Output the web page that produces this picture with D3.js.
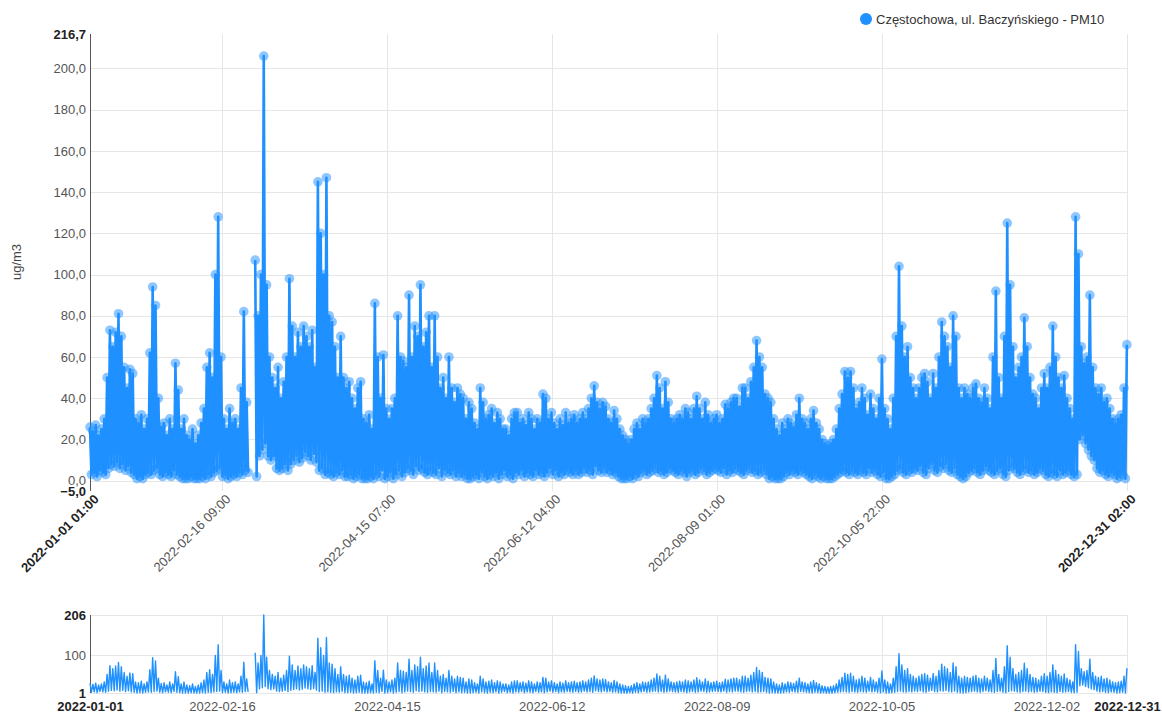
<!DOCTYPE html>
<html><head><meta charset="utf-8">
<script src="https://cdn.jsdelivr.net/npm/d3@7"></script>
<style>
body{margin:0;background:#fff;}
svg{font-family:"Liberation Sans",Arial,sans-serif;display:block;}
</style></head><body>
<svg id="c" width="1162" height="713"></svg>
<script>
const seriesName = "Częstochowa, ul. Baczyńskiego - PM10";
const yTitle = "ug/m3";
// daily readings (first reading of each day ~01:00 = daily high, second ~13:00 = daily low)
const dayHigh = [
26,24,27,22,25,30,50,73,65,72,
81,70,55,45,54,52,30,28,32,25,
30,62,94,85,40,26,28,22,30,25,
57,44,25,30,22,20,25,18,22,28,
35,55,62,50,100,128,60,30,25,35,
28,30,25,45,82,38,null,null,107,80,
100,206,95,60,50,45,55,40,48,60,
98,75,60,72,65,75,70,65,73,55,
145,120,100,147,80,77,65,50,70,50,
45,48,40,35,45,48,30,28,32,25,
86,60,40,61,35,30,35,40,80,60,
58,55,90,60,75,70,95,65,72,80,
55,80,60,45,50,40,60,45,38,45,
42,40,30,38,35,28,25,45,38,30,
32,35,28,33,30,25,25,22,30,33,
33,28,30,27,33,30,25,30,28,42,
40,30,33,28,25,30,27,33,28,30,
32,28,30,33,30,35,40,46,38,35,
38,36,30,28,34,30,25,22,20,18,
20,25,28,25,30,28,30,35,40,51,
45,35,48,38,30,28,30,32,30,35,
33,30,35,41,35,30,38,32,28,30,
32,28,30,37,35,38,40,40,36,45,
45,40,48,55,68,60,55,42,40,38,
30,25,22,28,25,30,28,26,32,40,
30,28,25,30,34,28,25,20,18,17,
18,20,25,35,42,53,50,53,45,35,
38,45,40,32,42,35,30,40,59,35,
30,25,40,70,104,75,60,65,50,45,
40,45,50,52,48,40,52,45,60,77,
70,65,55,80,70,45,40,45,42,40,
45,47,40,38,45,40,35,60,92,50,
40,70,125,95,65,50,55,60,79,65,
50,42,40,35,45,52,45,55,75,60,
50,45,51,40,35,30,128,110,65,57,
60,90,55,45,42,45,38,40,35,30,
28,30,32,45,66
];
const dayLow = [
3,4,2,5,4,3,6,8,7,9,
6,8,5,7,4,3,1,2,1,3,
4,3,5,6,3,2,4,3,2,5,
3,2,1,1,1,2,1,1,1,2,
1,3,2,4,5,6,2,3,1,2,
3,2,4,3,5,4,null,null,2,12,
15,18,12,10,12,6,5,6,8,5,
8,10,12,9,11,14,12,10,13,9,
5,6,3,4,3,2,4,3,5,2,
2,3,1,2,3,1,1,1,2,1,
3,2,5,1,2,4,1,3,5,2,
4,6,5,3,7,5,6,4,3,5,
4,3,6,2,5,4,3,5,2,4,
2,3,1,1,2,3,1,4,2,1,
3,2,4,1,3,5,2,3,1,4,
3,5,2,4,3,2,5,3,4,2,
4,6,3,5,2,4,3,5,4,3,
5,3,4,6,4,5,3,7,5,4,
6,4,5,3,4,2,1,1,1,2,
1,3,2,4,5,3,4,5,6,4,
5,3,4,6,5,4,3,5,4,2,
4,5,3,4,6,5,3,4,5,6,
5,4,6,3,5,4,6,5,4,3,
5,6,4,5,3,4,5,3,1,2,
1,1,1,2,4,3,5,4,3,5,
4,3,2,1,3,2,1,2,1,1,
1,2,3,4,5,4,3,5,4,3,
5,4,3,6,4,5,3,2,4,1,
1,2,3,5,6,4,3,5,4,6,
5,7,4,3,6,8,5,4,7,6,
8,5,4,6,3,2,1,2,4,5,
6,4,3,5,7,5,4,3,5,6,
3,2,5,7,6,4,3,5,6,4,
5,3,4,6,5,3,2,4,3,2,
5,3,4,5,3,2,3,20,22,18,
15,12,10,6,4,5,3,2,4,3,
1,2,3,1,4
];
const timeRange = ["2022-01-01 01:00", "2022-12-31 02:00"];
const yDomain = [-5, 216.7];
const yTicks = [-5,0,20,40,60,80,100,120,140,160,180,200,216.7];
const xTickLabels = ["2022-01-01 01:00","2022-02-16 09:00","2022-04-15 07:00","2022-06-12 04:00","2022-08-09 01:00","2022-10-05 22:00","2022-12-31 02:00"];
const navTickTimes = ["2022-01-01 01:00","2022-02-16 09:00","2022-04-15 07:00","2022-06-12 04:00","2022-08-09 01:00","2022-10-05 22:00","2022-12-02 19:00","2022-12-31 02:00"];
const navYTicks = [1,100,206];

const parse = d3.utcParse("%Y-%m-%d %H:%M");
const t0 = parse(timeRange[0]), t1 = parse(timeRange[1]);
const series = [];
dayHigh.forEach((h, d) => {
  const a = new Date(Date.UTC(2022,0,1+d,1));
  const b = new Date(Date.UTC(2022,0,1+d,13));
  if (a <= t1) series.push({t:a, v:h});
  if (b <= t1) series.push({t:b, v:dayLow[d]});
});

const color = "#1e90ff";
const svg = d3.select("#c");
const L = 90, R = 1127;
const x = d3.scaleUtc().domain([t0, t1]).range([L, R]);
const y = d3.scaleLinear().domain(yDomain).range([491, 34]);

// gridlines main
const gGrid = svg.append("g");
gGrid.selectAll("line.h").data(yTicks.filter(v => v >= 0 && v <= 200)).join("line")
  .attr("x1", L).attr("x2", R).attr("y1", d => Math.round(y(d))+0.5).attr("y2", d => Math.round(y(d))+0.5)
  .attr("stroke", "#e6e6e6");
gGrid.selectAll("line.v").data(xTickLabels.slice(1)).join("line")
  .attr("x1", d => Math.round(x(parse(d)))+0.5).attr("x2", d => Math.round(x(parse(d)))+0.5)
  .attr("y1", 34).attr("y2", 491).attr("stroke", "#e6e6e6");

// y axis
const fmt = v => d3.format(".1f")(v).replace(".", ",");
const yAx = svg.append("g").attr("transform", `translate(${L},0)`)
  .call(d3.axisLeft(y).tickValues(yTicks).tickSize(0).tickPadding(4).tickFormat(fmt));
yAx.select(".domain").attr("stroke", "#555").attr("d", `M0.5,${y(yDomain[1])}V${y(yDomain[0])}`);
yAx.selectAll("text").attr("font-size", 13).attr("font-family", "Liberation Sans, Arial, sans-serif")
  .attr("font-weight", (d,i) => (i === 0 || i === yTicks.length-1) ? "bold" : "normal")
  .attr("fill", (d,i) => (i === 0 || i === yTicks.length-1) ? "#222" : "#555");

// x axis
const xAx = svg.append("g").attr("transform", `translate(0,491)`)
  .call(d3.axisBottom(x).tickValues(xTickLabels.map(parse)).tickSize(0).tickFormat((d,i) => xTickLabels[i]));
xAx.select(".domain").remove();
xAx.selectAll("text").attr("font-size", 13).attr("font-family", "Liberation Sans, Arial, sans-serif")
  .attr("text-anchor", "end").attr("y", 0).attr("dy", 0)
  .attr("transform", "translate(9,9) rotate(-45)")
  .attr("font-weight", (d,i) => (i === 0 || i === xTickLabels.length-1) ? "bold" : "normal")
  .attr("fill", (d,i) => (i === 0 || i === xTickLabels.length-1) ? "#222" : "#555");

// y title
svg.append("text").attr("transform", "translate(21,262) rotate(-90)")
  .attr("text-anchor", "middle").attr("font-size", 13).attr("fill", "#444").text(yTitle);

// series line + markers
const line = d3.line().defined(d => d.v != null).x(d => x(d.t)).y(d => y(d.v));
svg.append("path").datum(series).attr("d", line).attr("fill", "none")
  .attr("stroke", color).attr("stroke-width", 2.6).attr("stroke-linejoin", "round");
svg.append("g").selectAll("circle").data(series.filter(d => d.v != null)).join("circle")
  .attr("cx", d => x(d.t)).attr("cy", d => y(d.v)).attr("r", 4.8)
  .attr("fill", color).attr("fill-opacity", 0.5);

// legend
svg.append("circle").attr("cx", 866).attr("cy", 19).attr("r", 6).attr("fill", color);
svg.append("text").attr("x", 876).attr("y", 23.5).attr("font-size", 13).attr("fill", "#333").text(seriesName);

// navigator
const ny = d3.scaleLinear().domain(d3.extent(series.filter(d => d.v != null), d => d.v)).range([693, 615]);
const nav = svg.append("g");
nav.selectAll("line.h").data(navYTicks).join("line")
  .attr("x1", L).attr("x2", R).attr("y1", d => Math.round(ny(d))+0.5).attr("y2", d => Math.round(ny(d))+0.5)
  .attr("stroke", "#e6e6e6");
nav.selectAll("line.v").data(navTickTimes.slice(1)).join("line")
  .attr("x1", d => Math.round(x(parse(d)))+0.5).attr("x2", d => Math.round(x(parse(d)))+0.5)
  .attr("y1", 615).attr("y2", 693).attr("stroke", "#e6e6e6");
const nyAx = nav.append("g").attr("transform", `translate(${L},0)`)
  .call(d3.axisLeft(ny).tickValues(navYTicks).tickSize(0).tickPadding(4).tickFormat(d3.format("d")));
nyAx.select(".domain").attr("stroke", "#555").attr("d", `M0.5,615V693`);
nyAx.selectAll("text").attr("font-size", 13).attr("font-family", "Liberation Sans, Arial, sans-serif")
  .attr("font-weight", (d,i) => (i === 0 || i === navYTicks.length-1) ? "bold" : "normal")
  .attr("fill", (d,i) => (i === 0 || i === navYTicks.length-1) ? "#222" : "#555");
const nxAx = nav.append("g").attr("transform", `translate(0,693)`)
  .call(d3.axisBottom(x).tickValues(navTickTimes.map(parse)).tickSize(0).tickPadding(0)
    .tickFormat((d,i) => navTickTimes[i].slice(0,10)));
nxAx.select(".domain").remove();
nxAx.selectAll("text").attr("font-size", 13).attr("font-family", "Liberation Sans, Arial, sans-serif")
  .attr("y", 17.5).attr("dy", 0)
  .attr("font-weight", (d,i) => (i === 0 || i === navTickTimes.length-1) ? "bold" : "normal")
  .attr("fill", (d,i) => (i === 0 || i === navTickTimes.length-1) ? "#222" : "#555");
const nline = d3.line().defined(d => d.v != null).x(d => x(d.t)).y(d => ny(d.v));
nav.append("path").datum(series).attr("d", nline).attr("fill", "none")
  .attr("stroke", color).attr("stroke-width", 1.4).attr("stroke-linejoin", "round");
</script>
</body></html>
